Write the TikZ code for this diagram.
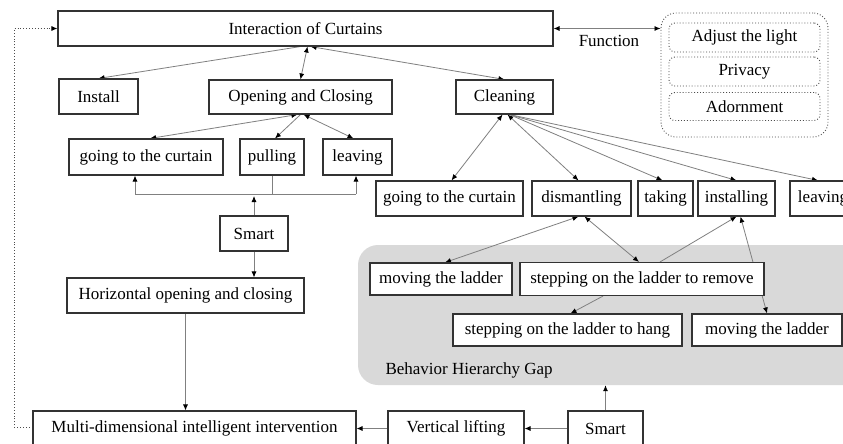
\documentclass[tikz,border=0pt]{standalone}
\usepackage{fontspec}
\setmainfont{Liberation Serif}
\usetikzlibrary{arrows.meta,calc}
\pgfdeclarelayer{bg}
\pgfdeclarelayer{edges}
\pgfsetlayers{bg,edges,main}
\tikzset{
  box/.style={draw=black!80, line width=1.1pt, fill=white, inner sep=0pt, align=center},
  fbox/.style={draw=black!70, dotted, line width=0.9pt, rounded corners=6pt, inner sep=0pt, fill=white},
  conn/.style={draw=black!50, line width=0.8pt},
  arr/.style={conn, -{Latex[length=6pt,width=5pt,black]}},
  darr/.style={conn, {Latex[length=6pt,width=5pt,black]}-{Latex[length=6pt,width=5pt,black]}},
}
\begin{document}
\begin{tikzpicture}[x=1pt,y=-1pt,font=\fontsize{17}{20}\selectfont]
\useasboundingbox (0,0) rectangle (843,444);
\begin{pgfonlayer}{bg}
\fill[white] (0,0) rectangle (843,444);
\node[fill=black!15, rounded corners=20pt, minimum width=510pt, minimum height=140pt, inner sep=0pt] (gap) at (613,315) {};
\end{pgfonlayer}
\node[anchor=west] (gaplbl) at (382,370) {Behavior Hierarchy Gap};
% top
\node[box, minimum width=495pt, minimum height=35pt] (ic) at (305.5,28.5) {Interaction of Curtains};
\node[fbox, rounded corners=15pt, minimum width=167pt, minimum height=124pt, fill=none] (fun) at (744.5,75) {};
\node[fbox, minimum width=151pt, minimum height=29pt] (f1) at (744.5,37.5) {Adjust the light};
\node[fbox, minimum width=151pt, minimum height=29pt] (f2) at (744.5,71.5) {Privacy};
\node[fbox, minimum width=151pt, minimum height=28pt] (f3) at (744.5,106.5) {Adornment};
\node (funlbl) at (609,41) {Function};
% second row
\node[box, minimum width=79pt, minimum height=35pt] (install) at (98.5,96.5) {Install};
\node[box, minimum width=183pt, minimum height=34pt] (open) at (300.5,97) {Opening and Closing};
\node[box, minimum width=97pt, minimum height=34pt] (clean) at (504.5,97) {Cleaning};
% left branch
\node[box, minimum width=154pt, minimum height=36pt] (goL) at (146,157) {going to the curtain};
\node[box, minimum width=64pt, minimum height=36pt] (pull) at (272,157) {pulling};
\node[box, minimum width=69pt, minimum height=36pt] (leaveL) at (357.5,157) {leaving};
\node[box, minimum width=68pt, minimum height=35pt] (smartL) at (254,233.5) {Smart};
\node[box, minimum width=237pt, minimum height=35pt] (horiz) at (185.5,295.5) {Horizontal opening and closing};
\node[box, minimum width=323pt, minimum height=35pt] (multi) at (194.5,428.5) {Multi-dimensional intelligent intervention};
\node[box, minimum width=136pt, minimum height=35pt] (vert) at (456,428.5) {Vertical lifting};
\node[box, minimum width=75pt, minimum height=35pt] (smartB) at (605.5,428.5) {Smart};
% right branch
\node[box, minimum width=147pt, minimum height=35pt] (goR) at (449.5,198.5) {going to the curtain};
\node[box, minimum width=99pt, minimum height=35pt] (dism) at (581.5,198.5) {dismantling};
\node[box, minimum width=55pt, minimum height=35pt] (take) at (665.5,198.5) {taking};
\node[box, minimum width=77pt, minimum height=35pt] (inst) at (736.5,198.5) {installing};
\node[box, minimum width=66pt, minimum height=35pt] (leaveR) at (823,198.5) {leaving};
\node[box, minimum width=142pt, minimum height=32pt] (moveL) at (441,279) {moving the ladder};
\node[box, minimum width=244pt, minimum height=33pt] (remove) at (642,279) {stepping on the ladder to remove};
\node[box, minimum width=229pt, minimum height=32pt] (hang) at (567.5,330) {stepping on the ladder to hang};
\node[box, minimum width=150pt, minimum height=32pt] (moveR) at (767,330) {moving the ladder};
% coordinates
\coordinate (hbL) at (135,194);
\coordinate (hbR) at (356,194);
\coordinate (hbS) at (254,194);
\coordinate (dl) at (14,0);
\begin{pgfonlayer}{edges}
\draw[darr] (ic.east) -- (ic.east -| fun.west);
\draw[arr] ($(ic.south)+(-5,0)$) -- (install.north);
\draw[darr] ($(ic.south)+(2,0)$) -- (open.north);
\draw[darr] ($(ic.south)+(5,0)$) -- (clean.north);
\draw[darr] ($(open.south)+(-3,0)$) -- ($(goL.north)+(4,0)$);
\draw[arr] (open.south) -- ($(pull.north)+(3,0)$);
\draw[darr] ($(open.south)+(3,0)$) -- ($(leaveL.north)+(-4,0)$);
\draw[conn] (hbL) -- (hbR);
\draw[conn] (pull.south) -- (pull.south |- hbL);
\draw[arr] (hbL) -- (hbL |- goL.south);
\draw[arr] (hbR) -- (hbR |- leaveL.south);
\draw[arr] (smartL.north) -- ($(hbS)+(0,2)$);
\draw[arr] (smartL.south) -- (smartL.south |- horiz.north);
\draw[arr] (horiz.south) -- (horiz.south |- multi.north);
\draw[black!70, line width=0.9pt, dotted, -{Latex[length=6pt,width=5pt,black]}] ($(multi.west)+(0,-1.5)$) -- ($(multi.west -| dl)+(0,-1.5)$) -- (dl |- ic.west) -- (ic.west);
\draw[arr] (vert.west) -- (multi.east);
\draw[arr] (smartB.west) -- (vert.east);
\draw[arr] (smartB.north) -- (smartB.north |- gap.south);
\draw[darr] ($(clean.south)+(-2,0)$) -- ($(goR.north)+(2,0)$);
\draw[darr] ($(clean.south)+(3,0)$) -- ($(dism.north)+(-3,0)$);
\draw[arr] ($(clean.south)+(5,0)$) -- ($(take.north)+(-3,0)$);
\draw[arr] ($(clean.south)+(5,0)$) -- (inst.north);
\draw[arr] ($(clean.south)+(5,0)$) -- ($(leaveR.north)+(-5,0)$);
\draw[darr] ($(dism.south)+(-3,0)$) -- ($(moveL.north)+(4,0)$);
\draw[darr] ($(dism.south)+(3,0)$) -- ($(remove.north)+(-3,0)$);
\draw[arr] ($(remove.north)+(18,0)$) -- (inst.south);
\draw[darr] ($(inst.south)+(4,0)$) -- (moveR.north);
\draw[arr] ($(remove.south)+(-39,0)$) -- ($(hang.north)+(3,0)$);
\end{pgfonlayer}
\end{tikzpicture}
\end{document}
